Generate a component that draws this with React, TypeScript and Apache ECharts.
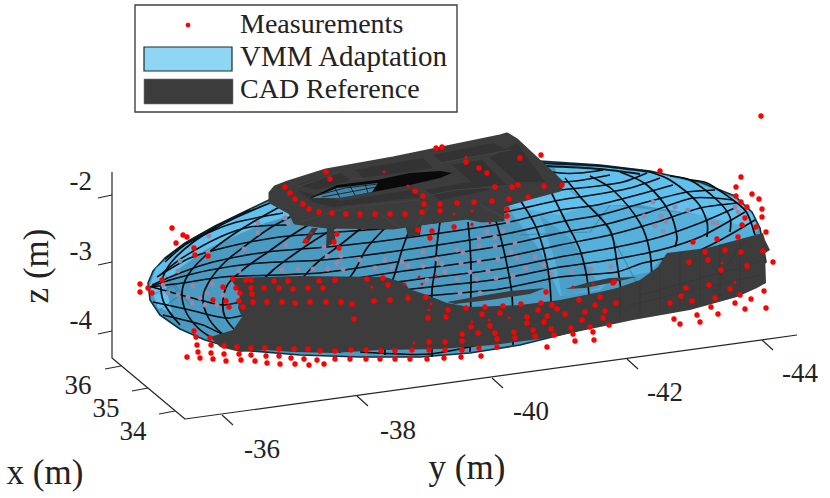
import { useEffect, useRef } from 'react';
import * as echarts from 'echarts';

type Pt = [number, number];
type Shape = { pts: Pt[]; fill?: string; stroke?: string; width?: number; smooth?: number };

// picture coordinates
const measurements: Pt[] = [
  [172,228],[183,235],[187,237],[176,243],[194,248],[195,255],[208,256],[326,172],[330,179],[285,187],[290,193],[295,199],[303,204],[309,209],[319,212],[332,213],[346,214],[360,214],[375,214],[390,214],[405,214],[422,212],[424,204],[415,191],[423,196],[440,204],[440,211],[457,203],[474,202],[492,201],[509,199],[528,197],[495,187],[512,187],[518,185],[544,186],[562,185],[520,158],[466,162],[479,168],[487,173],[436,148],[442,147],[541,155],[337,234],[334,242],[306,241],[339,248],[418,230],[432,231],[430,238],[454,227],[507,209],[507,216],
  [660,171],[761,116],[741,177],[736,187],[736,196],[752,194],[759,199],[741,202],[747,207],[762,209],[762,217],[745,218],[742,225],[756,227],[766,232],[693,242],[717,239],[738,237],[705,252],[725,250],[741,252],[763,251],[773,262],[689,262],[708,260],[747,266],[721,270],[730,289],[709,285],[686,288],[681,296],[692,301],[715,298],[740,295],[751,299],[764,291],[735,303],[711,307],[670,303],[745,309],[766,308],[718,314],[697,315],[674,319],[700,322],[680,324],
  [614,282],[600,297],[616,303],[595,305],[605,311],[603,318],[609,325],[590,327],[593,332],[594,340],[367,279],[383,278],[388,285],[374,301],[390,300],[408,298],[426,297],[448,310],[428,318],[446,317],[466,308],[485,307],[503,306],[521,304],[541,303],[538,310],[552,305],[557,309],[565,314],[579,300],[585,312],[582,320],[546,292],[613,283],[482,314],[500,313],[527,317],[547,316],[527,323],[544,322],[471,327],[490,326],[551,329],[571,328],[533,330],[514,332],[495,333],[478,333],[462,334],[573,334],[554,335],[535,336],[515,338],[497,339],[462,341],[445,342],[429,342],[575,341],[547,347],[497,347],[479,348],[462,350],[445,350],[429,350],[412,350],[395,351],[381,351],[366,350],[481,356],[461,357],[444,358],[427,359],[410,359],[395,359],[380,359],[366,359],
  [140,284],[140,292],[148,288],[162,280],[152,293],[233,279],[246,280],[251,280],[274,281],[288,281],[319,281],[335,280],[223,287],[236,288],[251,288],[264,288],[279,288],[293,289],[308,288],[323,288],[240,293],[252,294],[213,300],[226,301],[239,301],[253,302],[267,302],[282,302],[295,303],[310,302],[326,302],[341,302],[352,304],[229,307],[243,307],[354,319],
  [210,338],[194,331],[196,337],[197,345],[211,345],[224,346],[237,347],[251,348],[265,348],[279,349],[294,349],[308,349],[320,351],[335,351],[351,350],[198,352],[211,353],[224,354],[239,354],[251,355],[266,356],[279,356],[291,358],[304,359],[317,360],[335,359],[350,359],[187,357],[200,358],[213,359],[226,361],[241,360],[255,361],[267,363],[280,364],[295,364],[309,365],[324,364],
];

// half hidden by the CAD surface, only a speck shows
const occluded: Pt[] = [
  [466,157],[384,172],[472,211],[454,214],[472,225],[490,223],[311,233],[405,284],[422,284],[419,277],[431,304],[429,310],[573,287],[593,284],[489,320],[509,318],[414,343],[722,263],[735,282],[472,224],[372,287],[436,276],[472,322],[408,186],
];

// seen through the translucent VMM surface
const behindSurface: Pt[] = [
  [423,252],[457,250],[479,238],[495,237],[503,231],[515,243],[479,246],[495,246],[511,252],[517,258],[535,257],[544,265],[571,272],[591,269],[611,267],[552,274],[526,268],[513,276],[496,278],[488,271],[498,259],[479,261],[470,272],[461,263],[442,264],[423,266],[408,266],[392,267],[402,262],[385,260],[445,272],[477,279],[427,280],[457,279],[437,259],[463,253],[487,232],[508,222],[460,293],[480,293],
  [282,270],[298,269],[313,269],[328,269],[343,269],[360,260],[375,268],[239,271],[244,249],[286,245],[324,247],[327,256],[341,256],[337,263],[209,236],[208,252],[180,261],[178,271],[258,233],[258,223],[285,218],[288,223],[212,284],[200,298],[188,297],[178,295],[168,293],[163,285],[193,286],[205,305],[192,303],[217,305],[223,295],[207,293],
  [675,207],[688,210],[644,216],[661,216],[666,222],[655,226],[663,231],[713,223],[717,223],[738,212],[653,202],[735,207],
];

const shellOutline: Pt[] = [
  [148,283],[153,271],[165,258],[185,243],[215,226],[250,209],[275,197],[330,182],[400,170],[470,163],[540,161],[600,165],[650,171],[700,182],[735,196],[752,212],[760,228],[766,262],[740,280],[680,300],[600,325],[520,345],[470,353],[420,357],[360,357],[300,355],[240,350],[205,340],[180,329],[160,315],[150,300],
];
const shellLight: Pt[][] = [
  [[150,285],[156,268],[185,245],[215,228],[275,200],[295,214],[262,224],[235,236],[205,250],[180,268],[165,283],[172,312],[158,308]],
  [[505,205],[530,198],[560,186],[555,168],[600,167],[650,172],[700,184],[735,198],[752,214],[758,230],[700,215],[640,205],[590,205],[560,215]],
];
const shellRight: Pt[] = [
  [505,205],[560,205],[610,205],[700,215],[758,230],[745,250],[665,255],[650,272],[610,280],[600,290],[560,296],[540,250],
];
const shellMid: Pt[][] = [
  [[540,215],[572,240],[590,270],[600,288],[562,296],[555,260]],
];

const meridians: Pt[][] = [
  [[270,203],[237,217],[212,230],[192,243],[175,258],[165,272],[161,288],[165,305],[180,325]],
  [[283,205],[253,222],[228,238],[205,256],[188,275],[182,293],[186,312],[198,328],[212,338]],
  [[300,212],[270,228],[245,246],[225,262],[210,280],[203,297],[207,315],[218,330],[235,342]],
  [[320,218],[292,235],[268,252],[245,268],[228,284],[223,300],[225,317],[240,335],[258,346]],
  [[345,222],[315,240],[293,255],[272,271],[255,290],[248,310],[260,335],[280,350]],
  [[365,225],[340,245],[320,260],[305,275],[285,300],[290,350]],
  [[385,228],[367,248],[355,270],[345,285],[335,310],[340,353]],
  [[410,228],[402,250],[396,270],[390,290],[385,330],[385,355]],
  [[440,222],[437,245],[435,270],[432,290],[432,357]],
  [[468,222],[470,245],[471,270],[470,352]],
  [[492,208],[500,235],[507,265],[512,295],[513,345]],
  [[520,200],[535,225],[545,255],[550,285],[552,335]],
  [[545,180],[565,220],[580,250],[588,285],[590,325]],
  [[565,178],[583,200],[610,230],[617,263],[622,300]],
  [[590,176],[613,190],[640,223],[650,253],[652,290]],
  [[620,172],[647,185],[670,213],[677,237],[675,247]],
  [[650,172],[670,180],[697,202],[707,222],[707,237]],
  [[670,176],[690,180],[717,200],[730,217],[730,232]],
  [[690,180],[707,183],[737,203],[747,213],[755,235]],
];
const parallels: Pt[][] = [
  [[157,277],[190,258],[227,247],[273,238],[327,233],[390,228],[500,213],[560,200],[593,195],[630,188],[660,178]],
  [[152,285],[180,273],[213,262],[267,252],[327,247],[390,240],[500,224],[560,210],[597,205],[637,195],[673,185]],
  [[150,287],[170,280],[210,270],[260,263],[323,260],[390,252],[500,235],[560,222],[600,215],[643,203],[687,192],[715,190]],
  [[150,287],[183,283],[223,277],[320,273],[390,263],[500,246],[560,233],[603,225],[650,212],[693,198],[733,200]],
  [[152,287],[200,300],[225,305],[300,288],[390,273],[500,258],[560,245],[610,235],[657,222],[700,208],[737,203]],
  [[153,302],[190,310],[230,318],[300,298],[390,283],[500,269],[560,257],[617,247],[660,237],[700,223],[737,207]],
  [[163,315],[203,325],[233,337],[300,310],[390,292],[500,279],[560,267],[610,260],[660,250],[700,237],[745,212]],
  [[300,322],[390,300],[500,289],[560,277],[617,272],[643,263],[700,250],[755,220]],
  [[430,205],[500,202],[560,190],[590,187],[623,182],[647,173]],
  [[510,176],[560,182],[583,180],[610,175]],
  [[530,168],[560,173],[580,173],[603,170]],
  [[283,213],[237,222],[210,232],[185,245],[165,262]],
  [[287,225],[250,227],[220,237],[182,258],[160,275]],
  [[360,352],[430,354],[500,340],[560,325]],
];
const rimLines: Pt[][] = [
  [[535,163],[600,166],[650,172]],
  [[545,166],[600,169],[640,174]],
  [[250,210],[215,227],[185,244],[165,259]],
];
const seeThrough: Pt[][] = [
  [[570,190],[600,215],[630,270],[640,290]],
  [[152,295],[175,285],[190,305]],
  [[165,275],[180,295],[160,310]],
  [[520,235],[590,232],[610,205]],
];

const hull: Pt[] = [
  [230,278],[300,276],[385,277],[405,283],[409,289],[427,295],[447,303],[470,307],[520,305],[560,300],[600,292],[617,288],[640,280],[658,267],[667,253],[707,248],[763,233],[765,240],[770,250],[765,253],[766,283],[757,288],[737,297],[690,310],[633,320],[600,327],[547,338],[493,345],[440,349],[380,350],[333,353],[293,352],[267,350],[240,352],[220,347],[210,337],[233,330],[242,317],[238,308],[240,293],
];
const hullSlivers: Pt[][] = [
  [[447,302],[480,296],[510,291],[545,288],[530,294],[490,300],[455,304]],
  [[565,289],[590,282],[610,278],[637,277],[610,283],[585,288]],
];
const deck: Pt[] = [
  [270,193],[275,187],[288,182],[326,170],[393,158],[500,136],[507,134],[517,140],[563,183],[560,190],[530,198],[503,206],[503,220],[482,221],[467,218],[427,223],[393,228],[327,227],[295,223],[290,213],[270,202],
];
const legs: Pt[][] = [
  [[312,228],[318,228],[308,243],[302,243]],
  [[327,226],[333,226],[336,242],[326,247]],
  [[405,224],[422,222],[420,235],[408,237]],
];
const deckPanels: Pt[][] = [
  [[340,172],[350,180],[317,190],[297,185]],
  [[355,170],[423,158],[433,168],[363,178]],
  [[433,155],[493,143],[507,150],[443,163]],
  [[452,165],[482,160],[507,185],[477,187]],
  [[490,158],[517,143],[545,182],[517,182]],
  [[297,190],[313,202],[333,207],[420,197],[410,190],[340,201]],
  [[425,190],[470,182],[490,190],[440,200]],
];
const deckHole: Pt[] = [
  [310,198],[337,185],[377,180],[410,173],[440,171],[452,173],[440,178],[410,185],[373,192],[340,198],[313,198],
];
const holeBlue: Pt[] = [[312,198],[337,188],[378,183],[372,192],[340,198]];
const holeLines: Pt[][] = [
  [[318,195],[345,188],[378,184]],
  [[322,197],[350,192],[376,187]],
  [[335,188],[340,198]],
  [[350,186],[355,195]],
  [[365,184],[368,193]],
];
const deckStruts: Pt[][] = [
  [[350,180],[363,178]],
  [[297,187],[340,172]],
  [[420,197],[455,190],[505,186]],
  [[440,163],[510,150]],
  [[300,222],[350,207],[420,200]],
  [[370,208],[400,227]],
  [[430,205],[415,228]],
  [[480,205],[505,218]],
];
const hullMesh: Pt[][] = [
  [[620,288],[620,318]],[[640,282],[640,316]],[[660,270],[660,312]],[[680,252],[680,308]],[[700,250],[700,304]],[[720,244],[720,298]],[[740,240],[740,292]],
  [[640,295],[760,262]],[[630,305],[760,275]],[[700,250],[720,275],[745,240]],
];

const yTicks = ['-36', '-38', '-40', '-42', '-44'];
const xTicks = ['34', '35', '36'];
const zTicks = ['-2', '-3', '-4'];
const yTickAt: Pt[] = [[222,415],[357,396],[492,378],[627,359],[762,340]];
const xTickAt: Pt[] = [[175,411],[148,388],[121,366]];
const zTickAt: Pt[] = [[112,195],[112,262],[112,331]];
const yLabelAt: Pt[] = [[262,449],[398,430],[531,411],[665,392],[800,373]];
const xLabelAt: Pt[] = [[133,431],[106,408],[78,385]];
const zLabelAt: Pt[] = [[92,181],[92,251],[92,320]];

const BASE_BLUE = '#4a9bc2';
const LIGHT_BLUE = '#60c1ee';
const CAD = '#3c3c3c';
const AXIS = '#262626';

const shapeSeries = (name: string, shapes: Shape[], z: number) => ({
  type: 'custom',
  name,
  z,
  silent: true,
  clip: false,
  data: shapes.map((_, i) => i),
  renderItem: (params: any, api: any) => {
    const s = shapes[params.dataIndex];
    return {
      type: s.fill ? 'polygon' : 'polyline',
      shape: { points: s.pts.map((p) => api.coord(p)), smooth: s.smooth ?? 0 },
      style: { fill: s.fill ?? 'none', stroke: s.stroke ?? 'none', lineWidth: s.width ?? 1, lineJoin: 'round' },
    };
  },
});

const dots = (name: string, data: Pt[], color: string, size: number, z: number) => ({
  type: 'scatter',
  name,
  data,
  z,
  symbolSize: size,
  silent: true,
  itemStyle: { color, opacity: 1 },
});

const label = (text: string, at: Pt, size: number, align = 'center', rotation = 0) => ({
  type: 'text',
  x: at[0],
  y: at[1],
  rotation,
  style: {
    text,
    fontFamily: 'Liberation Serif',
    fontSize: size,
    fill: '#222222',
    textAlign: align,
    textVerticalAlign: 'middle',
  },
});

const App = () => {
  const chartRef = useRef<HTMLDivElement>(null);

  useEffect(() => {
    if (!chartRef.current) return;
    const myChart = echarts.init(chartRef.current, null, { renderer: 'svg' });

    const surface: Shape[] = [
      { pts: shellOutline, fill: BASE_BLUE, stroke: '#12303f', width: 1.6 },
      { pts: shellRight, fill: '#55b0db' },
      ...shellLight.map((pts) => ({ pts, fill: LIGHT_BLUE })),
      ...shellMid.map((pts) => ({ pts, fill: '#4c9fc8' })),
      ...seeThrough.map((pts) => ({ pts, stroke: 'rgba(40,95,125,0.4)', width: 1.2 })),
      ...parallels.map((pts) => ({ pts, stroke: '#050a0d', width: 1.5, smooth: 0.25 })),
      ...meridians.map((pts) => ({ pts, stroke: '#050a0d', width: 1.7, smooth: 0.3 })),
      ...rimLines.map((pts) => ({ pts, stroke: '#0c1a22', width: 2, smooth: 0.3 })),
    ];
    const cad: Shape[] = [
      { pts: hull, fill: CAD },
      ...hullSlivers.map((pts) => ({ pts, fill: CAD })),
      ...hullMesh.map((pts) => ({ pts, stroke: '#363636', width: 0.8 })),
      ...legs.map((pts) => ({ pts, fill: '#3a3a3a' })),
      { pts: deck, fill: CAD, stroke: CAD, width: 3 },
      ...deckPanels.map((pts) => ({ pts, fill: '#333333' })),
      ...deckStruts.map((pts) => ({ pts, stroke: '#444444', width: 1.2 })),
      { pts: deckHole, fill: '#0a0a0a' },
      { pts: holeBlue, fill: '#3f86a8' },
      ...holeLines.map((pts) => ({ pts, stroke: '#111', width: 0.8 })),
    ];
    const axes: Shape[] = [
      { pts: [[112,172],[112,358],[185,419],[797,335]], stroke: AXIS, width: 1.2 },
      ...yTickAt.map((p) => ({ pts: [p, [p[0] + 11, p[1] + 10]] as Pt[], stroke: AXIS, width: 1.2 })),
      ...xTickAt.map((p) => ({ pts: [p, [p[0] - 16, p[1] + 3]] as Pt[], stroke: AXIS, width: 1.2 })),
      ...zTickAt.map((p) => ({ pts: [p, [p[0] - 14, p[1] + 3]] as Pt[], stroke: AXIS, width: 1.2 })),
    ];

    const option = {
      animation: false,
      grid: { left: 0, right: 0, top: 0, bottom: 0 },
      xAxis: { type: 'value', min: 0, max: 830, show: false },
      yAxis: { type: 'value', min: 0, max: 498, inverse: true, show: false },
      series: [
        shapeSeries('Axes', axes, 1),
        shapeSeries('VMM Adaptation', surface, 2),
        dots('Measurements hidden', behindSurface, '#9c86a6', 5, 3),
        shapeSeries('CAD Reference', cad, 4),
        dots('Measurements occluded', occluded, '#ff0000', 3, 5),
        dots('Measurements', measurements, '#ff0000', 5.5, 6),
      ],
      graphic: [
        { type: 'rect', shape: { x: 135, y: 5, width: 322, height: 107 }, style: { fill: '#fff', stroke: '#404040', lineWidth: 1.4 } },
        { type: 'circle', shape: { cx: 188, cy: 25, r: 2.4 }, style: { fill: '#ff0000' } },
        { type: 'rect', shape: { x: 144, y: 47, width: 88, height: 24 }, style: { fill: '#8fd6f5', stroke: '#1a2a30', lineWidth: 1.2 } },
        { type: 'rect', shape: { x: 144, y: 79, width: 89, height: 25 }, style: { fill: CAD, stroke: '#777', lineWidth: 0.6 } },
        label('Measurements', [240, 23], 28, 'left'),
        label('VMM Adaptation', [240, 56], 29, 'left'),
        label('CAD Reference', [240, 88], 28, 'left'),
        ...yTicks.map((t, i) => label(t, yLabelAt[i], 27)),
        ...xTicks.map((t, i) => label(t, xLabelAt[i], 27)),
        ...zTicks.map((t, i) => label(t, zLabelAt[i], 27, 'right')),
        label('x (m)', [45, 472], 35),
        label('y (m)', [467, 467], 35),
        label('z (m)', [36, 266], 35, 'center', Math.PI / 2),
      ],
    };

    myChart.setOption(option as any);

    return () => {
      myChart.dispose();
    };
  }, []);

  return <div ref={chartRef} style={{ position: 'absolute', left: 0, top: 0, width: '830px', height: '498px' }} />;
};

export default App;
